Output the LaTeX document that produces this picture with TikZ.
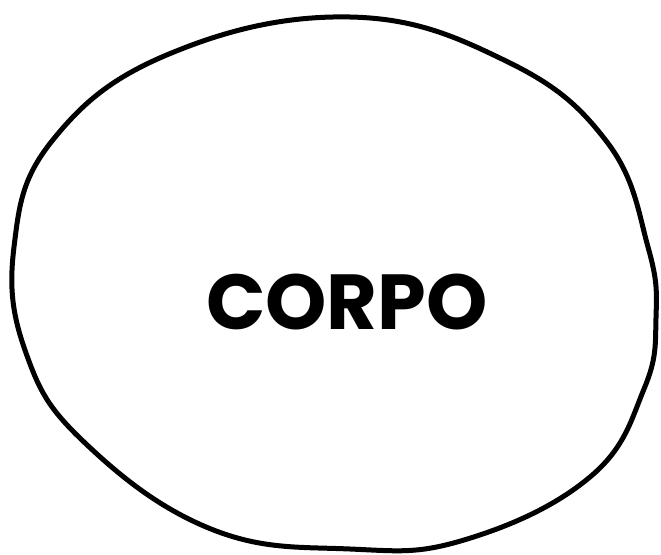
\documentclass[tikz,border=0pt]{standalone}
\usepackage{fontspec}
\newfontfamily\labelfont{Poppins}[UprightFont=* Bold]
\begin{document}
\begin{tikzpicture}[x=1pt, y=-1pt,
    outline/.style={line width=5pt, line join=round},
    title/.style={font=\labelfont\fontsize{78}{78}\selectfont, inner sep=0pt}]
    \useasboundingbox[fill=white] (0,0) rectangle (661,554);

    % hand drawn outline
    \draw[outline] plot[smooth cycle, tension=0.7] coordinates {
        (350,17) (506,61) (607,142) (648,247) (656,318) (644,389)
        (590,477) (464,540) (350,549) (211,529) (84,442) (26,353)
        (14,247) (52,141) (169,54)
    };

    \node[title] (corpo) at (347,302) {CORPO};
\end{tikzpicture}
\end{document}
